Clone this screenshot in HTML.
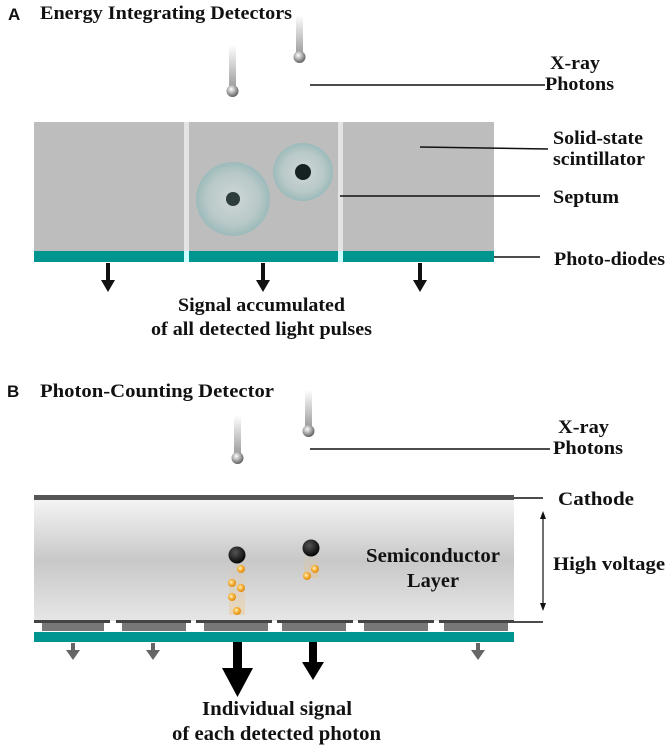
<!DOCTYPE html>
<html><head><meta charset="utf-8"><style>
html,body{margin:0;padding:0;background:#fff;}
svg{display:block;}
text{font-family:"Liberation Serif",serif;font-weight:bold;fill:#111;}
.lab{font-family:"Liberation Sans",sans-serif;font-weight:bold;}
</style></head><body>
<svg width="666" height="747" viewBox="0 0 666 747" xmlns="http://www.w3.org/2000/svg">
<defs>
<linearGradient id="stem" x1="0" y1="0" x2="0" y2="1"><stop offset="0" stop-color="#fff"/><stop offset="1" stop-color="#9a9a9a"/></linearGradient>
<radialGradient id="ball" cx="0.4" cy="0.35" r="0.7"><stop offset="0" stop-color="#fff"/><stop offset="0.5" stop-color="#aaa"/><stop offset="1" stop-color="#555"/></radialGradient>
<radialGradient id="halo" cx="0.5" cy="0.5" r="0.5"><stop offset="0" stop-color="#d0d6d6"/><stop offset="0.7" stop-color="#b8c8c8"/><stop offset="1" stop-color="#9cbaba"/></radialGradient>
<radialGradient id="blk" cx="0.4" cy="0.35" r="0.7"><stop offset="0" stop-color="#555"/><stop offset="1" stop-color="#000"/></radialGradient>
<radialGradient id="or" cx="0.4" cy="0.4" r="0.6"><stop offset="0" stop-color="#fff3c0"/><stop offset="0.5" stop-color="#f7b540"/><stop offset="1" stop-color="#e08a10"/></radialGradient>
<linearGradient id="semi" x1="0" y1="0" x2="0" y2="1"><stop offset="0" stop-color="#f4f4f4"/><stop offset="0.5" stop-color="#c8c8c8"/><stop offset="1" stop-color="#e6e6e6"/></linearGradient>
<linearGradient id="trail" x1="0" y1="0" x2="0" y2="1"><stop offset="0" stop-color="#f3c070" stop-opacity="0"/><stop offset="1" stop-color="#f3c070" stop-opacity="0.6"/></linearGradient>
</defs>

<!-- Panel A -->
<text class="lab" x="8" y="20" font-size="17">A</text>
<text x="40" y="19" font-size="19" textLength="252" lengthAdjust="spacingAndGlyphs">Energy Integrating Detectors</text>
<rect x="229" y="45" width="7" height="44" fill="url(#stem)"/>
<circle cx="232.5" cy="91" r="6" fill="url(#ball)"/>
<rect x="296" y="15" width="7" height="40" fill="url(#stem)"/>
<circle cx="299.5" cy="57" r="6" fill="url(#ball)"/>
<line x1="310" y1="85" x2="545" y2="85" stroke="#111" stroke-width="1.5"/>
<text x="550" y="69" font-size="19" textLength="50" lengthAdjust="spacingAndGlyphs">X-ray</text>
<text x="545" y="90" font-size="19" textLength="69" lengthAdjust="spacingAndGlyphs">Photons</text>

<rect x="34" y="122" width="460" height="129" fill="#bdbdbd"/>
<rect x="184" y="122" width="5" height="140" fill="#e4e4e4"/>
<rect x="338" y="122" width="5" height="140" fill="#e4e4e4"/>
<rect x="34" y="251" width="150" height="11" fill="#00968f"/>
<rect x="189" y="251" width="149" height="11" fill="#00968f"/>
<rect x="343" y="251" width="151" height="11" fill="#00968f"/>
<rect x="184" y="251" width="5" height="11" fill="#cff"/>
<rect x="338" y="251" width="5" height="11" fill="#cff"/>
<ellipse cx="233" cy="199" rx="37" ry="37" fill="url(#halo)"/>
<circle cx="233" cy="199" r="7" fill="#2d3d3d"/>
<ellipse cx="303" cy="172" rx="30" ry="29" fill="url(#halo)"/>
<circle cx="303" cy="172" r="8" fill="#162222"/>
<line x1="420" y1="147" x2="548" y2="149" stroke="#111" stroke-width="1.5"/>
<text x="553" y="144" font-size="19" textLength="90" lengthAdjust="spacingAndGlyphs">Solid-state</text>
<text x="553" y="165" font-size="19" textLength="92" lengthAdjust="spacingAndGlyphs">scintillator</text>
<line x1="340" y1="196" x2="540" y2="196" stroke="#111" stroke-width="1.5"/>
<text x="553" y="203" font-size="19" textLength="66" lengthAdjust="spacingAndGlyphs">Septum</text>
<line x1="494" y1="257" x2="540" y2="257" stroke="#111" stroke-width="1.5"/>
<text x="554" y="265" font-size="19" textLength="111" lengthAdjust="spacingAndGlyphs">Photo-diodes</text>
<g fill="#111">
<rect x="106" y="263" width="4" height="18"/><polygon points="101,280 115,280 108,292"/>
<rect x="261" y="263" width="4" height="18"/><polygon points="256,280 270,280 263,292"/>
<rect x="418" y="263" width="4" height="18"/><polygon points="413,280 427,280 420,292"/>
</g>
<text x="178" y="311" font-size="19" textLength="167" lengthAdjust="spacingAndGlyphs">Signal accumulated</text>
<text x="151" y="335" font-size="19" textLength="221" lengthAdjust="spacingAndGlyphs">of all detected light pulses</text>

<!-- Panel B -->
<text class="lab" x="7" y="397" font-size="17">B</text>
<text x="40" y="397" font-size="19" textLength="234" lengthAdjust="spacingAndGlyphs">Photon-Counting Detector</text>
<rect x="234" y="415" width="7" height="40" fill="url(#stem)"/>
<circle cx="237.5" cy="458" r="6" fill="url(#ball)"/>
<rect x="305" y="390" width="7" height="38" fill="url(#stem)"/>
<circle cx="308.5" cy="431" r="6" fill="url(#ball)"/>
<line x1="310" y1="449" x2="550" y2="449" stroke="#111" stroke-width="1.5"/>
<text x="558" y="433" font-size="19" textLength="51" lengthAdjust="spacingAndGlyphs">X-ray</text>
<text x="553" y="454" font-size="19" textLength="70" lengthAdjust="spacingAndGlyphs">Photons</text>

<rect x="34" y="500" width="480" height="121" fill="url(#semi)"/>
<rect x="34" y="495" width="480" height="5" fill="#555"/>
<line x1="514" y1="498" x2="543" y2="498" stroke="#111" stroke-width="1.5"/>
<text x="558" y="505" font-size="19" textLength="76" lengthAdjust="spacingAndGlyphs">Cathode</text>
<line x1="543" y1="518" x2="543" y2="604" stroke="#111" stroke-width="1.2"/>
<polygon points="540,519 546,519 543,511" fill="#111"/>
<polygon points="540,603 546,603 543,611" fill="#111"/>
<text x="553" y="570" font-size="19" textLength="112" lengthAdjust="spacingAndGlyphs">High voltage</text>
<line x1="514" y1="622" x2="543" y2="622" stroke="#111" stroke-width="1.5"/>
<text x="366" y="562" font-size="20" textLength="134" lengthAdjust="spacingAndGlyphs">Semiconductor</text>
<text x="407" y="587" font-size="20" textLength="52" lengthAdjust="spacingAndGlyphs">Layer</text>

<g>
<rect x="34" y="620" width="76" height="3" fill="#444"/><rect x="42" y="623" width="62" height="8" fill="#777"/>
<rect x="116" y="620" width="75" height="3" fill="#444"/><rect x="122" y="623" width="64" height="8" fill="#777"/>
<rect x="196" y="620" width="76" height="3" fill="#444"/><rect x="204" y="623" width="64" height="8" fill="#777"/>
<rect x="277" y="620" width="76" height="3" fill="#444"/><rect x="282" y="623" width="64" height="8" fill="#777"/>
<rect x="358" y="620" width="76" height="3" fill="#444"/><rect x="364" y="623" width="64" height="8" fill="#777"/>
<rect x="439" y="620" width="75" height="3" fill="#444"/><rect x="444" y="623" width="64" height="8" fill="#777"/>
</g>
<rect x="34" y="632" width="480" height="10" fill="#00968f"/>

<rect x="229" y="560" width="16" height="55" fill="url(#trail)" opacity="0.6"/>
<rect x="304" y="553" width="14" height="25" fill="url(#trail)" opacity="0.6"/>
<circle cx="237" cy="555" r="8.5" fill="url(#blk)"/>
<circle cx="311" cy="548" r="8.5" fill="url(#blk)"/>
<g fill="url(#or)">
<circle cx="241" cy="569" r="4"/><circle cx="232" cy="583" r="4"/><circle cx="241" cy="588" r="4"/>
<circle cx="232" cy="597" r="4"/><circle cx="237" cy="611" r="4"/>
<circle cx="307" cy="576" r="4"/><circle cx="315" cy="569" r="4"/>
</g>

<g fill="#666">
<rect x="71" y="643" width="4" height="8"/><polygon points="66,650 80,650 73,660"/>
<rect x="151" y="643" width="4" height="8"/><polygon points="146,650 160,650 153,660"/>
<rect x="476" y="643" width="4" height="8"/><polygon points="471,650 485,650 478,660"/>
</g>
<g fill="#000">
<rect x="233" y="642" width="9" height="27"/><polygon points="222,668 253,668 237.5,697"/>
<rect x="309" y="642" width="8" height="21"/><polygon points="302,662 324,662 313,680"/>
</g>
<text x="202" y="715" font-size="20" textLength="150" lengthAdjust="spacingAndGlyphs">Individual signal</text>
<text x="172" y="740" font-size="20" textLength="209" lengthAdjust="spacingAndGlyphs">of each detected photon</text>
</svg>
</body></html>
